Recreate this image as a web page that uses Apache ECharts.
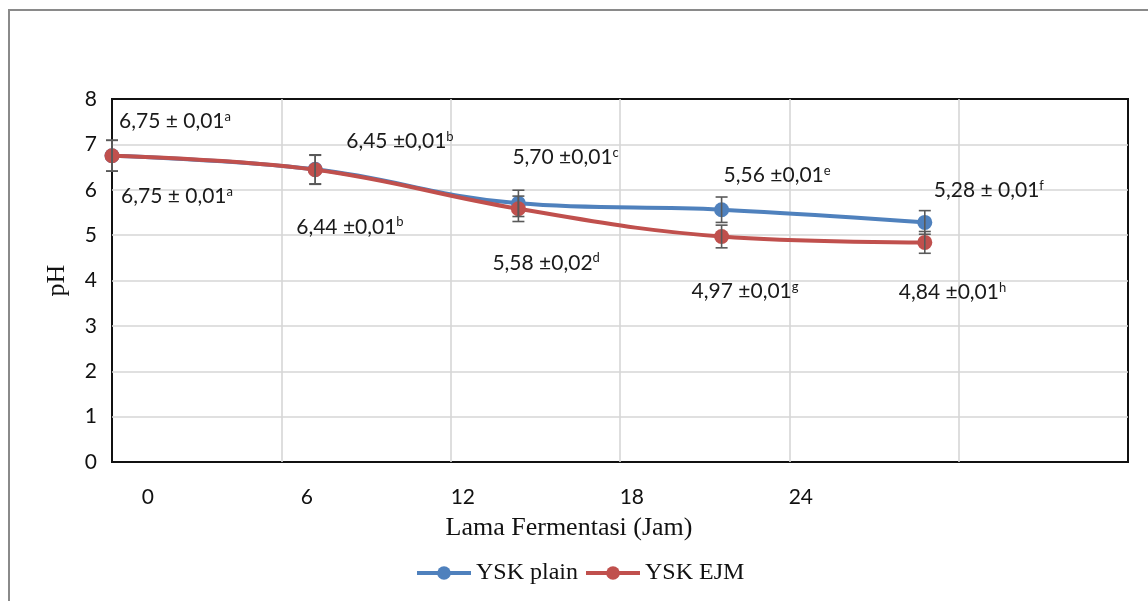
<!DOCTYPE html>
<html>
<head>
<meta charset="utf-8">
<script src="https://cdn.jsdelivr.net/npm/echarts@6/dist/echarts.min.js"></script>
<style>
  html, body { margin: 0; padding: 0; background: #fff; }
  #chart { width: 1148px; height: 601px; }
</style>
</head>
<body>
<div id="chart"></div>
<script>
// Fermentation time (hours) and tick labels of the time axis
const hours = [0, 6, 12, 18, 24];
const tickLabels = ['0', '6', '12', '18', '24'];

// pH means per treatment
const plainPH = [6.75, 6.45, 5.70, 5.56, 5.28];
const ejmPH = [6.75, 6.44, 5.58, 4.97, 4.84];

// error bar half-lengths
const plainErr = [0.34, 0.32, 0.29, 0.28, 0.26];
const ejmErr = [0.34, 0.32, 0.28, 0.25, 0.24];

// value labels and significance letters
const plainText = ['6,75 ± 0,01', '6,45 ±0,01', '5,70 ±0,01', '5,56 ±0,01', '5,28 ± 0,01'];
const plainSup = ['a', 'b', 'c', 'e', 'f'];
const ejmText = ['6,75 ± 0,01', '6,44 ±0,01', '5,58 ±0,02', '4,97 ±0,01', '4,84 ±0,01'];
const ejmSup = ['a', 'b', 'd', 'g', 'h'];

// ---- layout ----
const plainLabelOffset = [[7, -34], [31, -28], [-6, -46], [2, -34], [9, -32]];
const ejmLabelOffset = [[9, 41], [-19, 57], [-26, 54], [-30, 55], [-26, 50]];
const tickLabelAt = [1.06, 5.75, 10.36, 15.35, 20.34];

const BLUE = '#4f81bd';
const RED = '#c0504d';
const SANS = 'Lato';
const SERIF = 'Liberation Serif';

const richLabel = {
  v: { fontFamily: SANS, fontSize: 21, lineHeight: 22, color: '#1a1a1a' },
  s: { fontFamily: SANS, fontSize: 13, lineHeight: 14, verticalAlign: 'top', color: '#1a1a1a' }
};

function pointData(values, texts, sups, offsets) {
  return hours.map((h, i) => ({
    value: [h, values[i]],
    label: {
      show: true,
      position: 'inside',
      align: 'left',
      verticalAlign: 'middle',
      offset: offsets[i],
      formatter: '{v|' + texts[i] + '}{s|' + sups[i] + '}',
      rich: richLabel
    }
  }));
}

function errData(values, errs) {
  return hours.map((h, i) => [h, values[i], errs[i]]);
}

function renderErr(params, api) {
  const x = api.value(0), y = api.value(1), e = api.value(2);
  const top = api.coord([x, y + e]);
  const bot = api.coord([x, y - e]);
  const w = 6;
  const style = { stroke: '#595959', lineWidth: 1.6 };
  return {
    type: 'group',
    children: [
      { type: 'line', shape: { x1: top[0], y1: top[1], x2: bot[0], y2: bot[1] }, style },
      { type: 'line', shape: { x1: top[0] - w, y1: top[1], x2: top[0] + w, y2: top[1] }, style },
      { type: 'line', shape: { x1: bot[0] - w, y1: bot[1], x2: bot[0] + w, y2: bot[1] }, style }
    ]
  };
}

const gridLine = { show: true, showMinLine: false, showMaxLine: false, lineStyle: { color: '#d6d6d6', width: 1.6 } };

const chart = echarts.init(document.getElementById('chart'), null, { renderer: 'canvas' });

chart.setOption({
  backgroundColor: '#fff',
  animation: false,
  graphic: [{
    type: 'rect',
    shape: { x: 9, y: 10, width: 1300, height: 700 },
    style: { fill: 'none', stroke: '#8a8a8a', lineWidth: 2 },
    silent: true
  }],
  grid: {
    left: 112, top: 99, right: 20, bottom: 139,
    show: true, borderColor: '#111', borderWidth: 2, backgroundColor: 'transparent'
  },
  legend: {
    left: 410, top: 556,
    itemWidth: 54, itemHeight: 17, itemGap: 6,
    lineStyle: { width: 4 },
    textStyle: { fontFamily: SERIF, fontSize: 24, color: '#111' },
    data: ['YSK plain', 'YSK EJM']
  },
  xAxis: [{
    type: 'value', min: 0, max: 30, interval: 5,
    axisLine: { show: false }, axisTick: { show: false },
    axisLabel: { show: false },
    splitLine: gridLine,
    name: 'Lama Fermentasi (Jam)', nameLocation: 'middle', nameGap: 53,
    nameTextStyle: { fontFamily: SERIF, fontSize: 26, color: '#111', padding: [0, 102, 0, 0] }
  }, {
    type: 'value', min: 0, max: 30, position: 'bottom',
    axisLine: { show: false }, axisTick: { show: false },
    splitLine: { show: false },
    axisLabel: {
      show: true, margin: 25,
      customValues: tickLabelAt,
      formatter: (val) => {
        const i = tickLabelAt.findIndex(p => Math.abs(p - val) < 1e-6);
        return i >= 0 ? tickLabels[i] : '';
      },
      fontFamily: SANS, fontSize: 21, color: '#111'
    }
  }],
  yAxis: {
    type: 'value', min: 0, max: 8, interval: 1,
    axisLine: { show: false }, axisTick: { show: false },
    axisLabel: { margin: 15, fontFamily: SANS, fontSize: 21, color: '#111' },
    splitLine: gridLine,
    name: 'pH', nameLocation: 'middle', nameRotate: 90, nameGap: 42,
    nameTextStyle: { fontFamily: SERIF, fontSize: 26, color: '#111' }
  },
  series: [
    {
      name: 'YSK plain', type: 'line', xAxisIndex: 0, smooth: 0.4,
      symbol: 'circle', symbolSize: 15, z: 2,
      itemStyle: { color: BLUE }, lineStyle: { color: BLUE, width: 4 },
      data: pointData(plainPH, plainText, plainSup, plainLabelOffset)
    },
    {
      name: 'YSK EJM', type: 'line', xAxisIndex: 0, smooth: 0.4,
      symbol: 'circle', symbolSize: 15, z: 3,
      itemStyle: { color: RED }, lineStyle: { color: RED, width: 4 },
      data: pointData(ejmPH, ejmText, ejmSup, ejmLabelOffset)
    },
    {
      type: 'custom', xAxisIndex: 0, z: 4, silent: true,
      renderItem: renderErr, data: errData(plainPH, plainErr)
    },
    {
      type: 'custom', xAxisIndex: 0, z: 4, silent: true,
      renderItem: renderErr, data: errData(ejmPH, ejmErr)
    }
  ]
});
</script>
</body>
</html>
